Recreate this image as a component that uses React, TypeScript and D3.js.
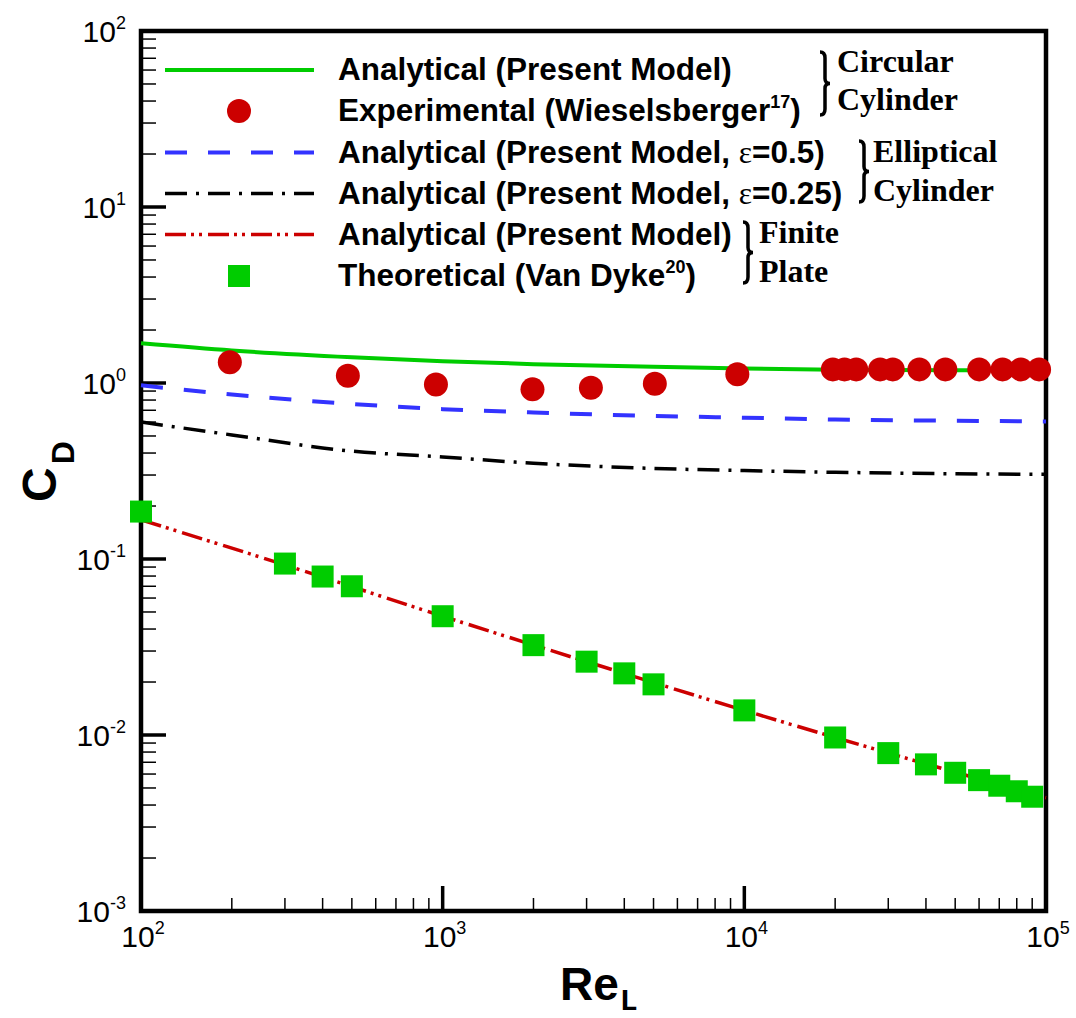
import React from 'react';
import * as d3 from 'd3';

// Re_L grid for the analytical curves
const curveRe = [100, 200, 500, 1000, 2000, 5000, 1e4, 2e4, 5e4, 1e5];
const cdCircular = [1.68, 1.53, 1.4, 1.33, 1.28, 1.235, 1.21, 1.19, 1.18, 1.18];
const cdEllipse05 = [0.97, 0.86, 0.76, 0.71, 0.68, 0.65, 0.635, 0.62, 0.61, 0.605];
const cdEllipse025 = [0.6, 0.507, 0.41, 0.38, 0.35, 0.327, 0.318, 0.311, 0.305, 0.303];

const plateRe = [100, 300, 1000, 3000, 1e4, 3e4, 1e5];
const cdPlate = [0.167, 0.0925, 0.0473, 0.0261, 0.0138, 0.0079, 0.0044];

// Wieselsberger experiments
const expRe = [197, 485, 950, 1985, 3100, 5050, 9480, 19650, 21480, 23490, 28190, 31050, 38040, 46380, 60070, 71770, 82550, 94860];
const expCd = [1.31, 1.1, 0.98, 0.92, 0.94, 0.99, 1.12, 1.195, 1.195, 1.195, 1.195, 1.195, 1.195, 1.195, 1.195, 1.195, 1.195, 1.195];

// Van Dyke theory
const vdRe = [100, 300, 400, 500, 1000, 2000, 3000, 4000, 5000, 1e4, 2e4, 3e4, 4e4, 5e4, 6e4, 7e4, 8e4, 9e4];
const vdCd = [0.186, 0.0942, 0.0795, 0.07, 0.0473, 0.0324, 0.0261, 0.0224, 0.0194, 0.0138, 0.00968, 0.00789, 0.00681, 0.0061, 0.00554, 0.00515, 0.00479, 0.00446];

const xTickExp = [2, 3, 4, 5];
const yTickExp = [-3, -2, -1, 0, 1, 2];

const GREEN = '#00cc00';
const RED = '#cc0000';
const BLUE = '#3333ff';
const SANS = '"Liberation Sans", Arial, sans-serif';
const SERIF = '"Liberation Serif", "Times New Roman", serif';

const W = 1076, H = 1018;
const left = 141, right = 1046, top = 31, bottom = 911;

const x = d3.scaleLog().domain([1e2, 1e5]).range([left, right]);
const y = d3.scaleLog().domain([1e-3, 1e2]).range([bottom, top]);

const line = d3.line<[number, number]>()
  .x(d => x(d[0]))
  .y(d => y(d[1]))
  .curve(d3.curveMonotoneX);

const zip = (a: number[], b: number[]) => a.map((v, i) => [v, b[i]] as [number, number]);

const minors = (exps: number[]) => {
  const out: number[] = [];
  for (let i = 0; i < exps.length - 1; i++)
    for (let k = 2; k <= 9; k++) out.push(k * Math.pow(10, exps[i]));
  return out;
};

// curly brace "}" with tip pointing right
const brace = (cx: number, y0: number, y1: number) => {
  const ym = (y0 + y1) / 2;
  return `M${cx - 5},${y0} Q${cx},${y0} ${cx},${y0 + 6} L${cx},${ym - 5} Q${cx},${ym} ${cx + 5},${ym} ` +
    `Q${cx},${ym} ${cx},${ym + 5} L${cx},${y1 - 6} Q${cx},${y1} ${cx - 5},${y1}`;
};

const legendRows = [70, 111, 152.5, 193.5, 234.5, 276];

export default function App() {
  const sq = 22;
  return (
    <svg width={W} height={H} style={{ position: 'absolute', left: 0, top: 0, background: '#fff' }}>
      {/* minor ticks */}
      {minors(yTickExp).map((v, i) => (
        <line key={'ym' + i} x1={left} x2={left + 15} y1={y(v)} y2={y(v)} stroke="#000" strokeWidth={1.5} />
      ))}
      {minors(xTickExp).map((v, i) => (
        <line key={'xm' + i} x1={x(v)} x2={x(v)} y1={bottom} y2={bottom - 13} stroke="#000" strokeWidth={1.5} />
      ))}
      {yTickExp.map(e => (
        <line key={'yM' + e} x1={left} x2={left + 25} y1={y(Math.pow(10, e))} y2={y(Math.pow(10, e))} stroke="#000" strokeWidth={3.5} />
      ))}
      {xTickExp.map(e => (
        <line key={'xM' + e} x1={x(Math.pow(10, e))} x2={x(Math.pow(10, e))} y1={bottom} y2={bottom - 25} stroke="#000" strokeWidth={3.5} />
      ))}
      <rect x={left} y={top} width={right - left} height={bottom - top} fill="none" stroke="#000" strokeWidth={4.5} />

      {/* tick labels */}
      {yTickExp.map(e => (
        <text key={'yl' + e} x={126} y={y(Math.pow(10, e)) + 11} textAnchor="end" fontFamily={SANS} fontSize={30}>
          10<tspan dy={-13} fontSize={18}>{e}</tspan>
        </text>
      ))}
      {xTickExp.map(e => (
        <text key={'xl' + e} x={x(Math.pow(10, e)) + 2} y={947} textAnchor="middle" fontFamily={SANS} fontSize={30}>
          10<tspan dy={-13} fontSize={18}>{e}</tspan>
        </text>
      ))}

      {/* axis titles */}
      <text transform="translate(56,502) rotate(-90)" fontFamily={SANS} fontWeight="bold" fontSize={48}>
        C<tspan dx={3} dy={18} fontSize={32}>D</tspan>
      </text>
      <text x={560} y={1000} fontFamily={SANS} fontWeight="bold" fontSize={46}>
        Re<tspan dx={1} dy={10} fontSize={30} fontFamily={'"Liberation Mono", "Courier New", monospace'}>L</tspan>
      </text>

      {/* curves */}
      <path d={line(zip(curveRe, cdCircular)) || ''} fill="none" stroke={GREEN} strokeWidth={4} />
      <path d={line(zip(curveRe, cdEllipse05)) || ''} fill="none" stroke={BLUE} strokeWidth={4} strokeDasharray="22,21" />
      <path d={line(zip(curveRe, cdEllipse025)) || ''} fill="none" stroke="#000" strokeWidth={3.5} strokeDasharray="22,9,3,9" />
      <path d={line(zip(plateRe, cdPlate)) || ''} fill="none" stroke={RED} strokeWidth={3.5} strokeDasharray="21,5,3,5,3,6" />

      {/* markers */}
      {expRe.map((r, i) => (
        <circle key={'c' + i} cx={x(r)} cy={y(expCd[i])} r={12} fill={RED} />
      ))}
      {vdRe.map((r, i) => (
        <rect key={'s' + i} x={x(r) - sq / 2} y={y(vdCd[i]) - sq / 2} width={sq} height={sq} fill={GREEN} />
      ))}

      {/* legend */}
      <line x1={165} x2={314} y1={legendRows[0]} y2={legendRows[0]} stroke={GREEN} strokeWidth={4} />
      <circle cx={239} cy={legendRows[1]} r={12} fill={RED} />
      <line x1={165} x2={314} y1={legendRows[2]} y2={legendRows[2]} stroke={BLUE} strokeWidth={4} strokeDasharray="22,21" />
      <line x1={165} x2={314} y1={legendRows[3]} y2={legendRows[3]} stroke="#000" strokeWidth={3.5} strokeDasharray="22,9,3,9" />
      <line x1={165} x2={314} y1={legendRows[4]} y2={legendRows[4]} stroke={RED} strokeWidth={3.5} strokeDasharray="21,5,3,5,3,6" />
      <rect x={239 - sq / 2} y={legendRows[5] - sq / 2} width={sq} height={sq} fill={GREEN} />

      <g fontFamily={SANS} fontWeight="bold" fontSize={31.5}>
        <text x={338} y={legendRows[0] + 10}>Analytical (Present Model)</text>
        <text x={338} y={legendRows[1] + 10}>Experimental (Wieselsberger<tspan dy={-13} fontSize={18}>17</tspan><tspan dy={13}>)</tspan></text>
        <text x={338} y={legendRows[2] + 10}>Analytical (Present Model, <tspan fontFamily={SERIF} fontWeight="normal">ε</tspan>=0.5)</text>
        <text x={338} y={legendRows[3] + 10}>Analytical (Present Model, <tspan fontFamily={SERIF} fontWeight="normal">ε</tspan>=0.25)</text>
        <text x={338} y={legendRows[4] + 10}>Analytical (Present Model)</text>
        <text x={338} y={legendRows[5] + 10}>Theoretical (Van Dyke<tspan dy={-13} fontSize={18}>20</tspan><tspan dy={13}>)</tspan></text>
      </g>

      <g fill="none" stroke="#000" strokeWidth={3.5}>
        <path d={brace(825, 52, 115)} />
        <path d={brace(864, 141, 202)} />
        <path d={brace(748, 222, 283)} />
      </g>
      <g fontFamily={SERIF} fontWeight="bold" fontSize={32}>
        <text x={837} y={72}>Circular</text>
        <text x={837} y={110}>Cylinder</text>
        <text x={873} y={162}>Elliptical</text>
        <text x={873} y={201}>Cylinder</text>
        <text x={759} y={243}>Finite</text>
        <text x={759} y={282}>Plate</text>
      </g>
    </svg>
  );
}
